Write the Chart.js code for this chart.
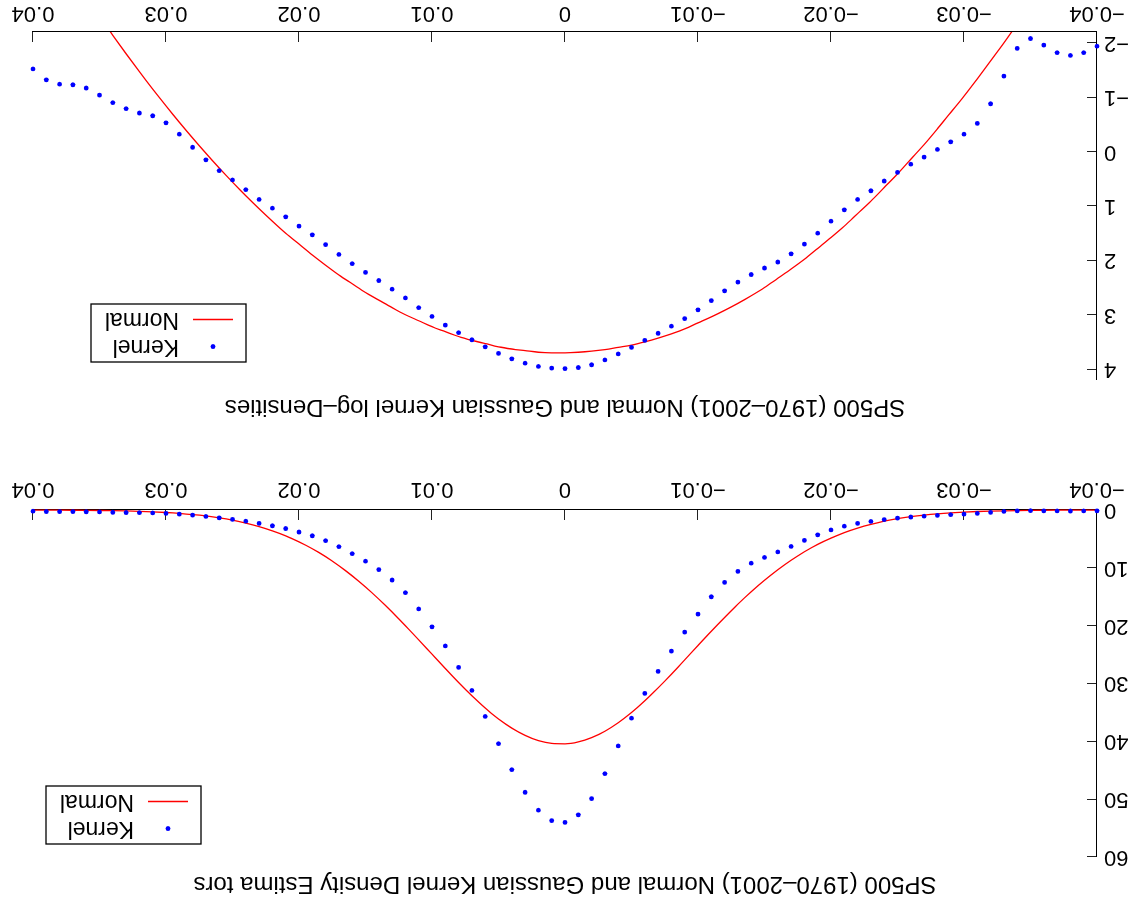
<!DOCTYPE html>
<html>
<head>
<meta charset="utf-8">
<title>SP500 densidades</title>
<script src="https://cdn.jsdelivr.net/npm/chart.js@4"></script>
<style>
  html, body { margin: 0; padding: 0; background: #fff; }
  #hoja { width: 1135px; height: 904px; transform: rotate(180deg); }
  canvas { display: block; }
</style>
</head>
<body>
<div id="hoja">
  <canvas id="densidad" width="1135" height="452"></canvas>
  <canvas id="logDensidad" width="1135" height="452"></canvas>
</div>
<script>
// retornos diarios donde se evaluan las densidades
const retornos = [
  -0.040, -0.039, -0.038, -0.037, -0.036, -0.035, -0.034, -0.033, -0.032, -0.031,
  -0.030, -0.029, -0.028, -0.027, -0.026, -0.025, -0.024, -0.023, -0.022, -0.021,
  -0.020, -0.019, -0.018, -0.017, -0.016, -0.015, -0.014, -0.013, -0.012, -0.011,
  -0.010, -0.009, -0.008, -0.007, -0.006, -0.005, -0.004, -0.003, -0.002, -0.001,
  0.000,
  0.001, 0.002, 0.003, 0.004, 0.005, 0.006, 0.007, 0.008, 0.009, 0.010,
  0.011, 0.012, 0.013, 0.014, 0.015, 0.016, 0.017, 0.018, 0.019, 0.020,
  0.021, 0.022, 0.023, 0.024, 0.025, 0.026, 0.027, 0.028, 0.029, 0.030,
  0.031, 0.032, 0.033, 0.034, 0.035, 0.036, 0.037, 0.038, 0.039, 0.040
];

const kernelDens = [
  0.14, 0.16, 0.17, 0.16, 0.14, 0.12, 0.15, 0.24, 0.40, 0.57,
  0.70, 0.80, 0.92, 1.06, 1.21, 1.40, 1.65, 1.97, 2.31, 2.80,
  3.45, 4.30, 5.25, 6.29, 7.25, 8.2, 9.2, 10.6, 12.5, 15.0,
  18.0, 21.1, 24.4, 27.9, 31.7, 36.0, 40.8, 45.6, 49.9, 52.7,
  54.0,
  53.7, 51.9, 48.8, 44.9, 40.4, 35.7, 31.2, 27.2, 23.5, 20.2,
  17.1, 14.3, 12.1, 10.3, 8.85, 7.55, 6.35, 5.30, 4.45, 3.80,
  3.20, 2.72, 2.31, 1.93, 1.61, 1.36, 1.11, 0.88, 0.70, 0.57,
  0.50, 0.47, 0.43, 0.39, 0.34, 0.30, 0.28, 0.28, 0.26, 0.21
];

const normalDens = [
  0.0095, 0.0144, 0.0214, 0.0316, 0.0461, 0.0666, 0.0953, 0.135, 0.189, 0.262,
  0.360, 0.489, 0.658, 0.876, 1.154, 1.504, 1.941, 2.479, 3.133, 3.924,
  4.860, 5.954, 7.229, 8.680, 10.32, 12.13, 14.13, 16.28, 18.58, 20.97,
  23.43, 25.92, 28.39, 30.75, 32.99, 35.01, 36.78, 38.26, 39.37, 40.11,
  40.44,
  40.36, 39.86, 38.97, 37.71, 36.12, 34.24, 32.11, 29.82, 27.40, 24.93,
  22.45, 20.01, 17.65, 15.41, 13.31, 11.39, 9.64, 8.07, 6.70, 5.50,
  4.47, 3.59, 2.857, 2.251, 1.755, 1.354, 1.034, 0.782, 0.585, 0.433,
  0.318, 0.230, 0.165, 0.118, 0.083, 0.058, 0.040, 0.027, 0.018, 0.012
];

const kernelLog = [
  -1.94, -1.82, -1.77, -1.82, -1.96, -2.08, -1.90, -1.39, -0.88, -0.52,
  -0.32, -0.18, -0.04, 0.10, 0.23, 0.38, 0.54, 0.72, 0.88, 1.07,
  1.28, 1.50, 1.70, 1.88, 2.03, 2.14, 2.26, 2.40, 2.56, 2.74,
  2.91, 3.07, 3.21, 3.34, 3.47, 3.60, 3.72, 3.83, 3.92, 3.97,
  3.99,
  3.98, 3.95, 3.89, 3.81, 3.71, 3.59, 3.46, 3.33, 3.19, 3.03,
  2.87, 2.69, 2.53, 2.37, 2.22, 2.06, 1.89, 1.71, 1.53, 1.37,
  1.20, 1.04, 0.88, 0.70, 0.52, 0.35, 0.15, -0.08, -0.32, -0.53,
  -0.66, -0.71, -0.79, -0.90, -1.04, -1.17, -1.23, -1.24, -1.32, -1.52
];

const normalLog = [
  -4.65, -4.24, -3.84, -3.46, -3.08, -2.71, -2.35, -2.00, -1.67, -1.34,
  -1.02, -0.72, -0.42, -0.13, 0.14, 0.41, 0.66, 0.91, 1.14, 1.37,
  1.58, 1.78, 1.98, 2.16, 2.33, 2.50, 2.65, 2.79, 2.92, 3.04,
  3.15, 3.26, 3.35, 3.43, 3.50, 3.56, 3.60, 3.64, 3.67, 3.69,
  3.70,
  3.70, 3.69, 3.66, 3.63, 3.59, 3.53, 3.47, 3.40, 3.31, 3.22,
  3.11, 3.00, 2.87, 2.73, 2.59, 2.43, 2.27, 2.09, 1.90, 1.70,
  1.50, 1.28, 1.05, 0.81, 0.56, 0.30, 0.03, -0.25, -0.54, -0.84,
  -1.15, -1.47, -1.80, -2.14, -2.49, -2.85, -3.23, -3.61, -4.00, -4.41
];

const xTicks = [-0.04, -0.03, -0.02, -0.01, 0, 0.01, 0.02, 0.03, 0.04];
const xTickLabels = ['−0.04', '−0.03', '−0.02', '−0.01', '0', '0.01', '0.02', '0.03', '0.04'];
const densTicks = [0, 10, 20, 30, 40, 50, 60];
const densTickLabels = ['0', '10', '20', '30', '40', '50', '60'];
const logTicks = [-2, -1, 0, 1, 2, 3, 4];
const logTickLabels = ['−2', '−1', '0', '1', '2', '3', '4'];

const fuente = '"Liberation Sans", Arial, Helvetica, sans-serif';
Chart.defaults.font.family = fuente;
Chart.defaults.color = '#000';

function pares(ys) {
  return retornos.map((x, i) => ({ x: x, y: ys[i] }));
}

// titulo y recuadro de leyenda dentro del area del grafico
const recuadro = {
  id: 'recuadro',
  afterDraw(chart, args, opts) {
    const ctx = chart.ctx;
    const area = chart.chartArea;
    const sets = chart.data.datasets;
    ctx.save();
    ctx.fillStyle = '#000';
    ctx.font = '24px ' + fuente;
    ctx.textAlign = 'center';
    ctx.textBaseline = 'middle';
    ctx.fillText(opts.titulo, (area.left + area.right) / 2, opts.tituloY);

    const x0 = area.right - opts.derecha;
    const y0 = area.top + opts.arriba;
    ctx.lineWidth = 1.3;
    ctx.strokeStyle = '#000';
    ctx.strokeRect(x0, y0, 155, 58);

    ctx.font = '23px ' + fuente;
    ctx.textAlign = 'left';
    ctx.fillText(sets[0].label, x0 + 67, y0 + 16);
    ctx.fillText(sets[1].label, x0 + 67, y0 + 43);

    ctx.fillStyle = sets[0].backgroundColor;
    ctx.beginPath();
    ctx.arc(x0 + 33, y0 + 15.5, 2.4, 0, Math.PI * 2);
    ctx.fill();

    ctx.strokeStyle = sets[1].borderColor;
    ctx.lineWidth = 1.3;
    ctx.beginPath();
    ctx.moveTo(x0 + 13, y0 + 42.5);
    ctx.lineTo(x0 + 53, y0 + 42.5);
    ctx.stroke();
    ctx.restore();
  }
};

// sin margen extra por las etiquetas de los extremos
function sinMargen(s) {
  s.paddingLeft = 0;
  s.paddingRight = 0;
  s.paddingTop = 0;
  s.paddingBottom = 0;
}

function escalas(cfg) {
  return {
    x: {
      type: 'linear',
      min: -0.04,
      max: 0.04,
      afterBuildTicks: s => { s.ticks = xTicks.map(v => ({ value: v })); },
      afterFit: s => { s.height = cfg.altoX; sinMargen(s); },
      ticks: {
        callback: (v, i) => xTickLabels[i],
        font: { size: 22 },
        color: '#000',
        padding: cfg.padX,
        maxRotation: 0,
        autoSkip: false
      },
      grid: { drawOnChartArea: false, tickLength: -10, color: '#222', lineWidth: 1 },
      border: { display: true, color: '#000', width: 1 }
    },
    y: {
      type: 'linear',
      min: cfg.yMin,
      max: cfg.yMax,
      afterBuildTicks: s => { s.ticks = cfg.yTicks.map(v => ({ value: v })); },
      afterFit: s => { s.width = 38; sinMargen(s); },
      ticks: {
        callback: (v, i) => cfg.yLabels[i],
        font: { size: 22 },
        color: '#000',
        padding: 17,
        autoSkip: false
      },
      grid: { drawOnChartArea: false, tickLength: -10, color: '#222', lineWidth: 1 },
      border: { display: true, color: '#000', width: 1 }
    }
  };
}

function series(kernel, normal, recorte) {
  return [
    {
      label: 'Kernel',
      data: pares(kernel),
      backgroundColor: '#0000ff',
      borderColor: '#0000ff',
      pointRadius: 2.4,
      pointBorderWidth: 0,
      clip: false
    },
    {
      label: 'Normal',
      data: pares(normal),
      showLine: true,
      borderColor: '#ff0000',
      backgroundColor: '#ff0000',
      borderWidth: 1.3,
      pointRadius: 0,
      cubicInterpolationMode: 'monotone',
      clip: recorte
    }
  ];
}

function opciones(cfg) {
  return {
    responsive: false,
    animation: false,
    devicePixelRatio: 1,
    events: [],
    layout: { padding: { top: cfg.arribaArea, right: 33, bottom: 0, left: 0 } },
    scales: escalas(cfg),
    plugins: {
      legend: { display: false },
      tooltip: { enabled: false },
      recuadro: cfg.leyenda
    }
  };
}

new Chart(document.getElementById('densidad'), {
  type: 'scatter',
  data: { datasets: series(kernelDens, normalDens, false) },
  options: opciones({
    arribaArea: 47, altoX: 58, padX: 18,
    yMin: 0, yMax: 60, yTicks: densTicks, yLabels: densTickLabels,
    leyenda: {
      titulo: 'SP500 (1970–2001) Normal and Gaussian Kernel Density Estima tors',
      tituloY: 20.5, derecha: 168, arriba: 13
    }
  }),
  plugins: [recuadro]
});

new Chart(document.getElementById('logDensidad'), {
  type: 'scatter',
  data: { datasets: series(kernelLog, normalLog, 0) },
  options: opciones({
    arribaArea: 72, altoX: 32, padX: 16,
    yMin: -2.2, yMax: 4.2, yTicks: logTicks, yLabels: logTickLabels,
    leyenda: {
      titulo: 'SP500 (1970–2001) Normal and Gaussian Kernel log–Densities',
      tituloY: 45.5, derecha: 213, arriba: 18
    }
  }),
  plugins: [recuadro]
});
</script>
</body>
</html>
